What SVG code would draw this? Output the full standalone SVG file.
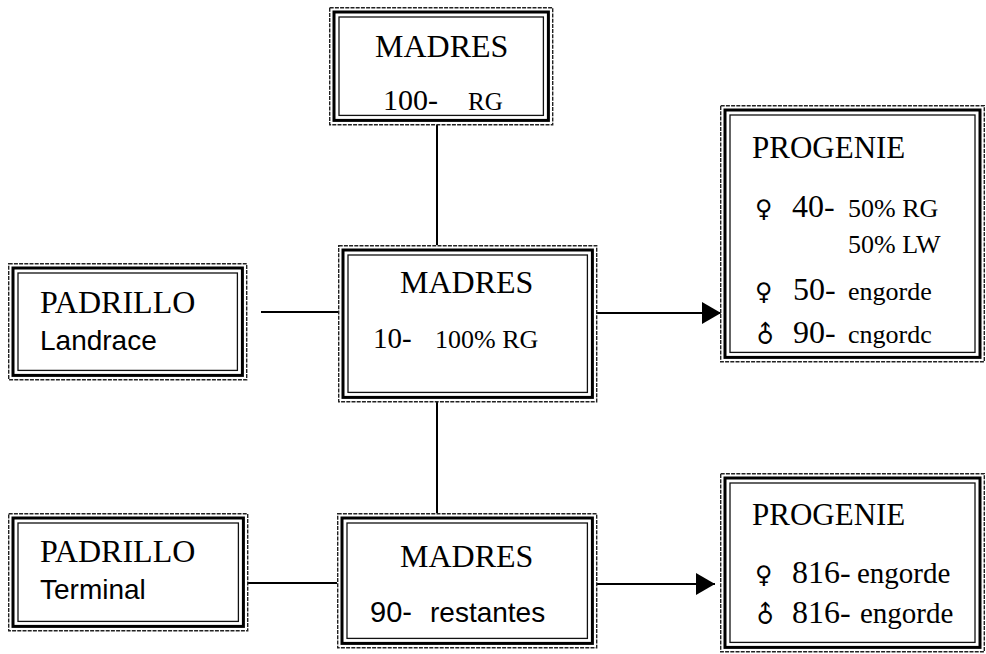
<svg xmlns="http://www.w3.org/2000/svg" width="986" height="654" viewBox="0 0 986 654">
<defs>
<style>
.o{fill:none;stroke:#222;stroke-width:1.4;stroke-dasharray:4 1.2}
.t{fill:none;stroke:#000;stroke-width:3}
.i{fill:none;stroke:#111;stroke-width:1.3}
.bg{fill:#fff}
.s{font-family:"Liberation Serif","Times New Roman",serif;fill:#000}
.a{font-family:"Liberation Sans",Arial,sans-serif;fill:#000}
.g{font-family:"DejaVu Sans","Noto Sans",sans-serif;fill:#000;font-size:24px}
.c{stroke:#000;stroke-width:2;fill:none}
</style>
<marker id="ah" markerWidth="20" markerHeight="22" refX="19" refY="11" orient="auto" markerUnits="userSpaceOnUse">
<path d="M0,0 L19,11 L0,22 Z" fill="#000"/>
</marker>
</defs>
<rect width="986" height="654" fill="#fff"/>
<g id="connectors">
<line class="c" x1="437" y1="125" x2="437" y2="245"/>
<line class="c" x1="437" y1="402" x2="437" y2="513"/>
<line class="c" x1="261" y1="312" x2="338" y2="312"/>
<line class="c" x1="248" y1="583" x2="337" y2="583"/>
<line class="c" x1="597" y1="313" x2="721" y2="313" marker-end="url(#ah)"/>
<line class="c" x1="597" y1="584" x2="715" y2="584" marker-end="url(#ah)"/>
</g>
<g id="madres-top">
<rect class="o bg" x="329.7" y="7.7" width="223" height="117"/>
<rect class="t" x="334" y="12" width="214.4" height="108.4"/>
<rect class="i" x="339" y="17" width="204.4" height="98.4"/>
<text class="s" x="375" y="57" font-size="32">MADRES</text>
<text class="s" x="383" y="110" font-size="30">100-</text>
<text class="s" x="468" y="110" font-size="25">RG</text>
</g>
<g id="madres-mid">
<rect class="o bg" x="338.7" y="245.7" width="258" height="156"/>
<rect class="t" x="343" y="250" width="249.4" height="147.4"/>
<rect class="i" x="348" y="255" width="239.4" height="137.4"/>
<text class="s" x="400" y="293" font-size="32">MADRES</text>
<text class="s" x="373" y="348" font-size="29">10-</text>
<text class="s" x="435" y="348" font-size="26">100% RG</text>
</g>
<g id="padrillo-landrace">
<rect class="o bg" x="8.7" y="263.7" width="238" height="116"/>
<rect class="t" x="13" y="268" width="229.4" height="107.4"/>
<rect class="i" x="18" y="273" width="219.4" height="97.4"/>
<text class="s" x="40" y="313" font-size="32">PADRILLO</text>
<text class="a" x="40" y="350" font-size="28">Landrace</text>
</g>
<g id="progenie-top">
<rect class="o bg" x="720.7" y="105.7" width="263.6" height="256"/>
<rect class="t" x="725" y="110" width="255" height="247.4"/>
<rect class="i" x="730" y="115" width="245" height="237.4"/>
<text class="s" x="752" y="158" font-size="31">PROGENIE</text>
<text class="g" x="755" y="217">♀</text>
<text class="s" x="792" y="217" font-size="32">40-</text>
<text class="s" x="848" y="217" font-size="26">50% RG</text>
<text class="s" x="848" y="253" font-size="26">50% LW</text>
<text class="g" x="755" y="300">♀</text>
<text class="s" x="793" y="300" font-size="32">50-</text>
<text class="s" x="848" y="300" font-size="26">engorde</text>
<text class="g" x="755" y="343" transform="rotate(-45 765 335)">♂</text>
<text class="s" x="793" y="343" font-size="32">90-</text>
<text class="s" x="848" y="343" font-size="26">cngordc</text>
</g>
<g id="padrillo-terminal">
<rect class="o bg" x="8.7" y="513.7" width="239" height="117"/>
<rect class="t" x="13" y="518" width="230.4" height="108.4"/>
<rect class="i" x="18" y="523" width="220.4" height="98.4"/>
<text class="s" x="40" y="562" font-size="32">PADRILLO</text>
<text class="a" x="40" y="599" font-size="28">Terminal</text>
</g>
<g id="madres-bottom">
<rect class="o bg" x="337.7" y="513.7" width="259" height="134"/>
<rect class="t" x="342" y="518" width="250.4" height="125.4"/>
<rect class="i" x="347" y="523" width="240.4" height="115.4"/>
<text class="s" x="400" y="567" font-size="32">MADRES</text>
<text class="a" x="370" y="622" font-size="29">90-</text>
<text class="a" x="430" y="622" font-size="28">restantes</text>
</g>
<g id="progenie-bottom">
<rect class="o bg" x="720.7" y="473.7" width="263.6" height="178"/>
<rect class="t" x="725" y="478" width="255" height="169.4"/>
<rect class="i" x="730" y="483" width="245" height="159.4"/>
<text class="s" x="752" y="525" font-size="31">PROGENIE</text>
<text class="g" x="755" y="583">♀</text>
<text class="s" x="792" y="583" font-size="32">816-</text>
<text class="s" x="857" y="583" font-size="29">engorde</text>
<text class="g" x="755" y="623" transform="rotate(-45 765 615)">♂</text>
<text class="s" x="792" y="623" font-size="32">816-</text>
<text class="s" x="860" y="623" font-size="29">engorde</text>
</g>
</svg>
